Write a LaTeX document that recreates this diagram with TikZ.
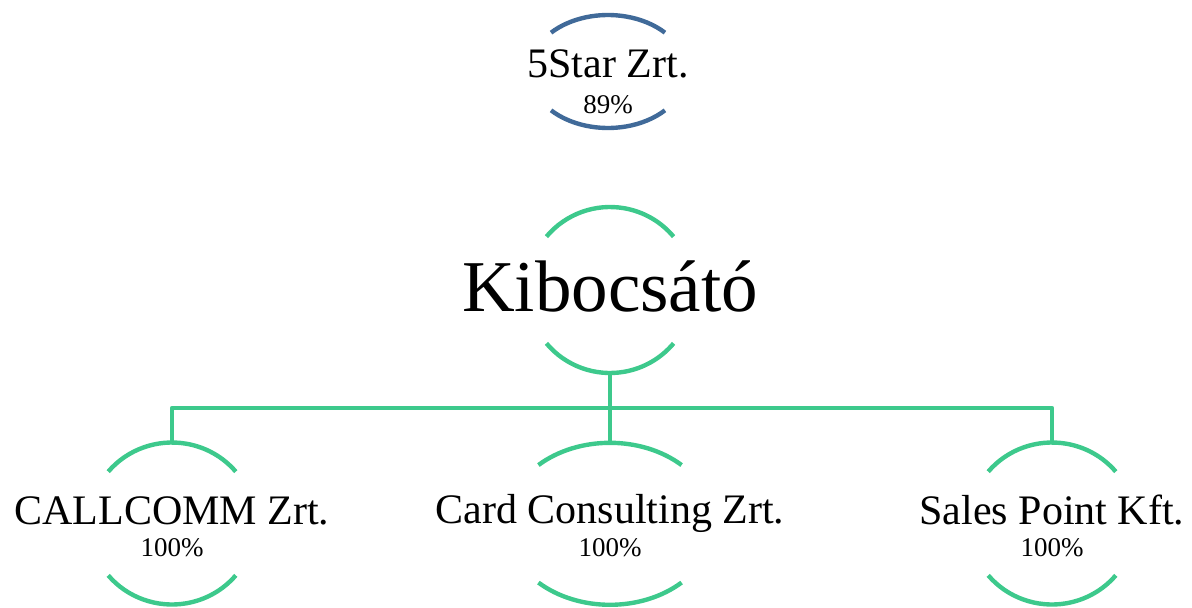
\documentclass[tikz,border=0pt]{standalone}
\usepackage{fontspec}
\setmainfont{Liberation Serif}
\definecolor{arcgreen}{HTML}{3DC98C}
\definecolor{arcblue}{HTML}{406A99}
\newcommand{\ringarcs}[6]{%
  \draw[#6] ([shift={(180-#5:#3pt and #4pt)}]#1,#2) arc[start angle=180-#5,end angle=#5,x radius=#3pt,y radius=#4pt];
  \draw[#6] ([shift={(180+#5:#3pt and #4pt)}]#1,#2) arc[start angle=180+#5,end angle=360-#5,x radius=#3pt,y radius=#4pt];
}
\begin{document}
\begin{tikzpicture}[x=1pt,y=-1pt,
  ringb/.style={draw=arcblue,line width=4.4pt},
  ringg/.style={draw=arcgreen,line width=4.4pt},
  conn/.style={draw=arcgreen,line width=4.2pt,line join=round},
  namelbl/.style={inner sep=0pt,anchor=base,font=\fontsize{42}{48}\selectfont},
  pctlbl/.style={inner sep=0pt,anchor=base,font=\fontsize{27}{32}\selectfont},
  biglbl/.style={inner sep=0pt,anchor=base,font=\fontsize{73}{80}\selectfont}]
\useasboundingbox (0,0) rectangle (1192,608);
% top node
\ringarcs{608}{71.5}{78.4}{56.5}{43.4}{ringb}
\node[namelbl] (star) at (608,77) {5Star Zrt.};
\node[pctlbl] (starp) at (608,113.3) {89\%};
% issuer
\ringarcs{610}{290}{83}{83}{40}{ringg}
\node[biglbl] (kib) at (610,311.7) {Kibocsátó};
\coordinate (kibb) at (610,373);
% children
\ringarcs{172}{523.5}{83}{81}{39.8}{ringg}
\ringarcs{610}{523.8}{104}{81}{46.5}{ringg}
\ringarcs{1052}{523.5}{83}{81}{39.8}{ringg}
\node[namelbl] (c1) at (172,524) {CALLCOMM Zrt.};
\node[pctlbl] (c1p) at (172,556.7) {100\%};
\node[namelbl] (c2) at (610,523) {Card Consulting Zrt.};
\node[pctlbl] (c2p) at (610,556.7) {100\%};
\node[namelbl] (c3) at (1052,524) {Sales Point Kft.};
\node[pctlbl] (c3p) at (1052,556.7) {100\%};
\coordinate (c1t) at (172,442.5);
\coordinate (c2t) at (610,442.8);
\coordinate (c3t) at (1052,442.5);
\coordinate (bus) at (610,408);
% connectors
\draw[conn] (kibb) -- (bus);
\draw[conn] (c1t) |- (bus) -| (c3t);
\draw[conn] (bus) -- (c2t);
\end{tikzpicture}
\end{document}
